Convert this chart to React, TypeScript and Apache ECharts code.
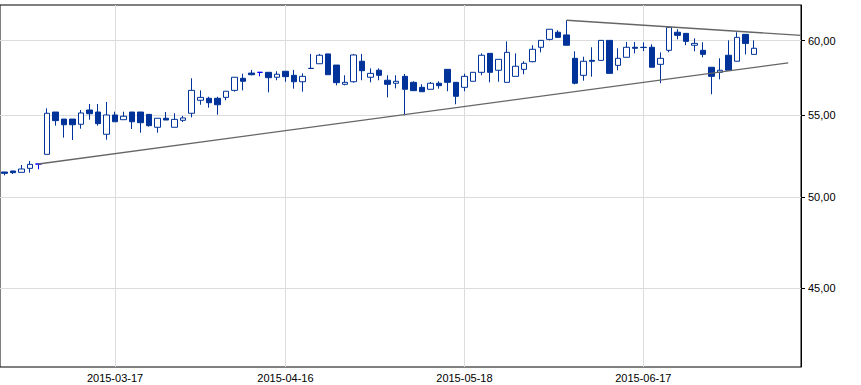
import React, { useEffect, useRef } from "react";
import * as echarts from "echarts";

// ---- calendar (trading days) ----
const startDate = "2015-02-26";
const holidays = ["2015-04-03", "2015-04-06", "2015-05-01", "2015-05-25"];
const tradingDayCount = 89; // days with data
const axisSlotCount = 94; // axis extends a few sessions past the data

// ---- labelled dates and price ticks ----
const xLabelDates = ["2015-03-17", "2015-04-16", "2015-05-18", "2015-06-17"];
const yTicks = [45, 50, 55, 60];
const yMin = 41.04;
const yMax = 62.53;

// ---- OHLC ----
const opens = [
  51.49, 51.55, 51.47, 51.71, 51.97, 52.56, 55.21, 54.76, 54.76, 54.43,
  55.34, 55.21, 53.8, 55.02, 54.72, 55.21, 55.21, 55.06, 54.24, 54.81,
  54.24, 54.68, 55.13, 55.97, 56.1, 56.1, 56.16, 56.62, 57.42, 57.77,
  57.82, 57.82, 57.49, 57.89, 57.62, 57.19, 58.09, 58.4, 59.07, 58.31,
  57.02, 57.19, 58.57, 57.49, 57.96, 57.29, 57.09, 57.55, 57.15, 56.82,
  56.69, 57.09, 58.02, 57.15, 56.82, 57.22, 57.82, 59.11, 57.96, 57.15,
  57.55, 58.02, 58.54, 59.53, 60.08, 60.58, 60.39, 58.77, 57.62, 58.63,
  58.63, 60.01, 58.29, 58.84, 59.53, 59.53, 59.53, 58.36, 59.32, 60.58,
  60.5, 59.67, 59.32, 58.16, 57.82, 58.98, 58.57, 60.43, 59.04,
];
const closes = [
  51.41, 51.45, 51.67, 51.95, 51.97, 55.13, 54.66, 54.4, 54.4, 55.15,
  55.1, 54.47, 55.02, 54.59, 54.94, 54.59, 54.53, 54.34, 54.81, 54.7,
  54.74, 54.83, 56.62, 56.16, 55.81, 55.68, 56.56, 57.49, 57.22, 57.66,
  57.82, 57.46, 57.69, 57.53, 57.19, 57.55, 58.08, 58.98, 57.66, 57.13,
  57.15, 59.0, 57.93, 57.75, 57.62, 57.02, 57.22, 56.69, 56.6, 56.53,
  57.09, 56.93, 57.15, 56.23, 57.55, 57.82, 58.98, 57.82, 58.7, 59.18,
  58.23, 58.43, 59.39, 60.01, 60.79, 60.22, 59.67, 57.09, 58.57, 58.57,
  60.01, 57.75, 58.77, 59.53, 59.46, 59.51, 58.16, 58.77, 60.93, 60.36,
  59.94, 59.8, 59.04, 57.55, 57.96, 57.96, 60.22, 59.8, 59.46,
];
const lows = [
  51.29, 51.37, 51.47, 51.45, 51.65, 52.56, 54.34, 53.59, 53.44, 54.15,
  54.72, 54.34, 53.46, 54.59, 54.72, 54.13, 53.9, 54.28, 53.9, 54.7,
  54.24, 54.57, 54.87, 55.68, 55.49, 55.04, 55.97, 56.53, 56.62, 57.62,
  57.55, 56.49, 57.29, 57.19, 56.73, 56.53, 58.08, 58.4, 57.66, 56.95,
  56.95, 57.13, 57.29, 57.15, 57.29, 56.16, 56.75, 55.0, 56.6, 56.53,
  56.69, 56.73, 56.56, 55.71, 56.56, 57.22, 57.62, 57.15, 57.19, 57.15,
  57.55, 57.69, 58.5, 59.18, 60.01, 60.22, 59.67, 57.02, 57.26, 57.53,
  58.63, 57.75, 57.96, 58.84, 59.11, 59.27, 58.16, 57.09, 59.18, 60.08,
  59.67, 59.25, 58.84, 56.36, 57.35, 57.96, 58.57, 59.04, 59.04,
];
const highs = [
  51.49, 51.55, 51.91, 52.15, 51.97, 55.45, 55.21, 54.76, 54.76, 55.34,
  55.73, 55.73, 55.86, 55.23, 55.23, 55.21, 55.21, 55.06, 54.81, 55.21,
  55.13, 54.96, 57.42, 56.62, 56.2, 56.2, 56.56, 57.49, 57.73, 57.98,
  57.82, 57.82, 57.89, 57.89, 57.98, 57.75, 59.07, 59.07, 59.07, 58.31,
  57.62, 59.07, 59.07, 58.09, 58.09, 57.62, 57.62, 57.71, 57.22, 57.02,
  57.17, 57.22, 58.02, 57.15, 57.73, 57.82, 59.11, 59.11, 58.7, 59.94,
  59.11, 58.57, 59.67, 60.01, 60.79, 60.72, 61.43, 59.25, 58.88, 59.53,
  60.01, 60.01, 59.46, 59.9, 59.9, 59.87, 59.74, 59.18, 60.93, 60.79,
  60.5, 60.15, 59.87, 58.16, 58.77, 60.01, 60.58, 60.43, 60.01,
];

// ---- trend lines: [session index, price] ----
const trendLower = [
  [4, 51.97],
  [92, 58.46],
];
const trendUpper = [
  [66, 61.43],
  [93.5, 60.36],
];

function buildDates(): string[] {
  const out: string[] = [];
  const [y, m, d] = startDate.split("-").map(Number);
  const cur = new Date(Date.UTC(y, m - 1, d));
  while (out.length < axisSlotCount) {
    const dow = cur.getUTCDay();
    const s = cur.toISOString().slice(0, 10);
    if (dow !== 0 && dow !== 6 && !holidays.includes(s)) out.push(s);
    cur.setUTCDate(cur.getUTCDate() + 1);
  }
  return out;
}

export default function App() {
  const ref = useRef<HTMLDivElement>(null);

  useEffect(() => {
    if (!ref.current) return;
    const chart = echarts.init(ref.current, undefined, { renderer: "svg" });
    const dates = buildDates();
    const xLabelIdx = xLabelDates.map((s) => dates.indexOf(s));
    const ln = Math.log;
    const yTickLn = yTicks.map((t) => ln(t));
    const candles = opens
      .slice(0, tradingDayCount)
      .map((o, i) => [ln(o), ln(closes[i]), ln(lows[i]), ln(highs[i])]);
    const font = "'Liberation Sans', Arial, sans-serif";
    const gridColor = "#dcdcdc";

    chart.setOption({
      animation: false,
      backgroundColor: "#ffffff",
      grid: {
        left: -1,
        right: 60,
        top: 5,
        bottom: 18,
        show: true,
        borderColor: "#000000",
        borderWidth: 1,
        backgroundColor: "transparent",
      },
      xAxis: [
        {
          type: "category",
          data: dates,
          boundaryGap: true,
          show: false,
        },
        {
          type: "value",
          min: -0.5,
          max: dates.length - 0.5,
          position: "bottom",
          axisLine: { show: false, onZero: false },
          axisTick: { show: false, customValues: xLabelIdx },
          axisLabel: {
            customValues: xLabelIdx,
            formatter: (v: number) => dates[Math.round(v)],
            fontFamily: font,
            fontSize: 11,
            color: "#000000",
            margin: 5,
          },
          splitLine: { show: true, lineStyle: { color: gridColor, width: 1 } },
        },
      ],
      yAxis: {
        type: "value",
        position: "right",
        min: ln(yMin),
        max: ln(yMax),
        axisLine: { show: true, onZero: false, lineStyle: { color: "#000000", width: 1 } },
        axisTick: {
          show: true,
          length: 4,
          customValues: yTickLn,
          lineStyle: { color: "#000000" },
        },
        axisLabel: {
          customValues: yTickLn,
          formatter: (v: number) => Math.exp(v).toFixed(2).replace(".", ","),
          fontFamily: font,
          fontSize: 11,
          color: "#000000",
          margin: 7,
        },
        splitLine: { show: true, lineStyle: { color: gridColor, width: 1 } },
      },
      series: [
        {
          type: "candlestick",
          xAxisIndex: 0,
          yAxisIndex: 0,
          barWidth: 6,
          data: candles,
          itemStyle: {
            color: "#ffffff",
            color0: "#003399",
            borderColor: "#003399",
            borderColor0: "#003399",
            borderColorDoji: "#0000ff",
            borderWidth: 1,
          },
        },
        {
          type: "line",
          xAxisIndex: 1,
          yAxisIndex: 0,
          data: trendLower.map(([x, v]) => [x, ln(v)]),
          symbol: "none",
          lineStyle: { color: "#666666", width: 1.3 },
          silent: true,
        },
        {
          type: "line",
          xAxisIndex: 1,
          yAxisIndex: 0,
          data: trendUpper.map(([x, v]) => [x, ln(v)]),
          symbol: "none",
          lineStyle: { color: "#666666", width: 1.3 },
          silent: true,
        },
      ],
    });

    return () => chart.dispose();
  }, []);

  return (
    <div
      ref={ref}
      style={{ position: "fixed", left: 0, top: 0, width: 861, height: 385, background: "#fff" }}
    />
  );
}
